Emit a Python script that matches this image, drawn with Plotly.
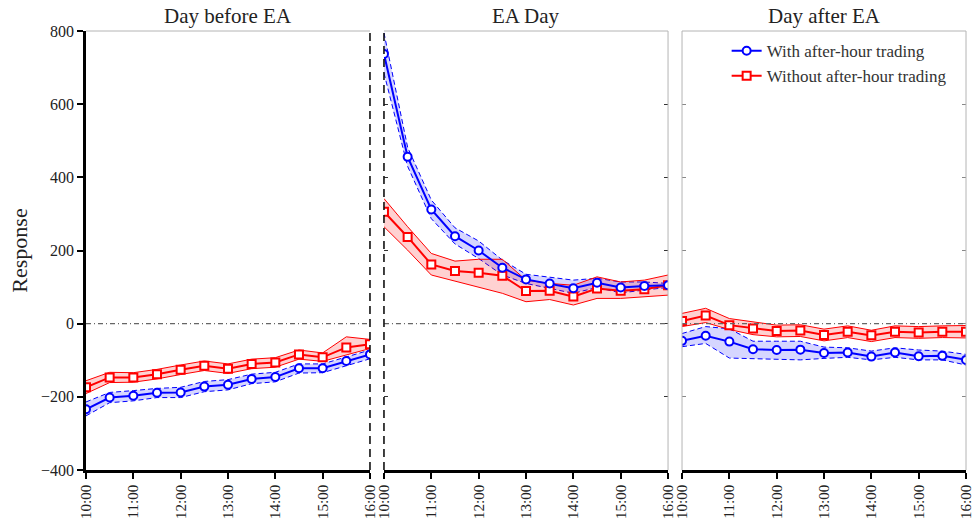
import plotly.graph_objects as go

# Half-hourly sampling times (hours) and the hourly tick labels
hours = [10, 10.5, 11, 11.5, 12, 12.5, 13, 13.5, 14, 14.5, 15, 15.5, 16]
tick_hours = [10, 11, 12, 13, 14, 15, 16]
tick_labels = ["10:00", "11:00", "12:00", "13:00", "14:00", "15:00", "16:00"]
y_ticks = [-400, -200, 0, 200, 400, 600, 800]

panel_titles = ["Day before EA", "EA Day", "Day after EA"]

# With after-hour trading: mean response and confidence band
with_before = [-234, -202, -197, -189, -188, -172, -167, -151, -146, -122, -122, -102, -84]
with_before_hi = [-214, -188, -183, -177, -174, -158, -153, -138, -133, -110, -110, -92, -72]
with_before_lo = [-252, -216, -211, -202, -202, -186, -181, -164, -159, -135, -134, -114, -96]

with_ea = [737, 456, 312, 239, 200, 153, 121, 110, 97, 112, 99, 103, 105]
with_ea_hi = [795, 482, 338, 262, 226, 174, 135, 128, 119, 124, 114, 114, 110]
with_ea_lo = [685, 430, 287, 218, 178, 133, 110, 96, 83, 99, 84, 92, 99]

with_after = [-47, -33, -49, -70, -72, -71, -80, -79, -90, -79, -89, -88, -99]
with_after_hi = [-27, -8, -14, -48, -48, -48, -64, -66, -75, -66, -72, -75, -84]
with_after_lo = [-63, -54, -94, -96, -99, -99, -95, -92, -99, -92, -99, -99, -113]

# Without after-hour trading: mean response and confidence band
without_before = [-174, -147, -147, -138, -126, -115, -123, -110, -106, -84, -92, -65, -56]
without_before_hi = [-156, -133, -134, -125, -113, -102, -110, -97, -93, -72, -80, -36, -43]
without_before_lo = [-191, -161, -160, -151, -139, -128, -136, -123, -119, -97, -103, -86, -68]

without_ea = [306, 237, 162, 144, 139, 131, 89, 90, 74, 96, 90, 94, 105]
without_ea_hi = [342, 265, 192, 171, 176, 176, 119, 110, 105, 128, 114, 119, 133]
without_ea_lo = [265, 201, 133, 116, 99, 83, 60, 66, 51, 69, 69, 74, 78]

without_after = [7, 22, -4, -13, -20, -19, -31, -22, -32, -22, -24, -22, -22]
without_after_hi = [28, 42, 14, 4, -4, -3, -15, -6, -18, -6, -8, -6, -5]
without_after_lo = [-8, 3, -16, -30, -36, -35, -47, -38, -49, -38, -40, -38, -39]

with_series = [(with_before, with_before_hi, with_before_lo),
               (with_ea, with_ea_hi, with_ea_lo),
               (with_after, with_after_hi, with_after_lo)]
without_series = [(without_before, without_before_hi, without_before_lo),
                  (without_ea, without_ea_hi, without_ea_lo),
                  (without_after, without_after_hi, without_after_lo)]

FONT = "Liberation Serif"
BLUE = "#0000ff"
RED = "#ff0000"
BLUE_FILL = "rgba(0,0,255,0.16)"
RED_FILL = "rgba(255,0,0,0.18)"
GRAY = "#b4b4b4"

domains = [[0.0, 0.3227], [0.3386, 0.6614], [0.6773, 1.0]]

fig = go.Figure()

for i in range(3):
    xa = "x" if i == 0 else f"x{i + 1}"
    ya = "y" if i == 0 else f"y{i + 1}"
    w_mean, w_hi, w_lo = with_series[i]
    o_mean, o_hi, o_lo = without_series[i]

    # confidence band, with after-hour trading (dashed edges)
    fig.add_trace(go.Scatter(x=hours, y=w_hi, mode="lines", xaxis=xa, yaxis=ya,
                             line=dict(color=BLUE, width=1, dash="5px,3px"),
                             showlegend=False, hoverinfo="skip"))
    fig.add_trace(go.Scatter(x=hours, y=w_lo, mode="lines", xaxis=xa, yaxis=ya,
                             line=dict(color=BLUE, width=1, dash="5px,3px"),
                             fill="tonexty", fillcolor=BLUE_FILL,
                             showlegend=False, hoverinfo="skip"))
    # confidence band, without after-hour trading (solid edges)
    fig.add_trace(go.Scatter(x=hours, y=o_hi, mode="lines", xaxis=xa, yaxis=ya,
                             line=dict(color=RED, width=1),
                             showlegend=False, hoverinfo="skip"))
    fig.add_trace(go.Scatter(x=hours, y=o_lo, mode="lines", xaxis=xa, yaxis=ya,
                             line=dict(color=RED, width=1),
                             fill="tonexty", fillcolor=RED_FILL,
                             showlegend=False, hoverinfo="skip"))

    fig.add_trace(go.Scatter(x=hours, y=o_mean, mode="lines+markers", xaxis=xa, yaxis=ya,
                             name="Without after-hour trading", legendrank=2,
                             line=dict(color=RED, width=2),
                             marker=dict(symbol="square", size=8, color="white",
                                         line=dict(color=RED, width=2)),
                             showlegend=(i == 0)))
    fig.add_trace(go.Scatter(x=hours, y=w_mean, mode="lines+markers", xaxis=xa, yaxis=ya,
                             name="With after-hour trading", legendrank=1,
                             line=dict(color=BLUE, width=2),
                             marker=dict(symbol="circle", size=8, color="white",
                                         line=dict(color=BLUE, width=2)),
                             showlegend=(i == 0)))

axis_font = dict(family=FONT, size=15, color="#222")
for i in range(3):
    sx = "" if i == 0 else str(i + 1)
    fig.update_layout(**{
        f"xaxis{sx}": dict(
            domain=domains[i], range=[10, 16], anchor=f"y{sx}", automargin=False,
            tickvals=tick_hours, ticktext=tick_labels, tickangle=-90,
            ticks="outside", ticklen=6, tickwidth=2, tickcolor="black",
            showline=True, linecolor="black", linewidth=2.5,
            showgrid=False, zeroline=False, tickfont=axis_font,
        ),
        f"yaxis{sx}": dict(
            domain=[0, 1], range=[-400, 800], anchor=f"x{sx}", automargin=False,
            tickvals=y_ticks, showgrid=False, zeroline=False,
            tickfont=dict(family=FONT, size=16, color="#222"),
        ),
    })

fig.update_layout(
    yaxis=dict(ticks="outside", ticklen=6, tickwidth=1.5, tickcolor="black",
               showline=True, linecolor="black", linewidth=2.5,
               title=dict(text="Response", standoff=8,
                          font=dict(family=FONT, size=22, color="#222"))),
    yaxis2=dict(ticks="inside", ticklen=4, tickwidth=1, tickcolor="#333",
                mirror="ticks", showline=False, showticklabels=False),
    yaxis3=dict(ticks="inside", ticklen=4, tickwidth=1, tickcolor="#888",
                mirror="ticks", showline=False, showticklabels=False),
)

shapes = []
dash_black = dict(color="#111", width=1.6, dash="8px,5px")
gray_line = dict(color=GRAY, width=1)
for i in range(3):
    sx = "" if i == 0 else str(i + 1)
    xd, yd = f"x{sx} domain", f"y{sx} domain"
    # top frame edge
    shapes.append(dict(type="line", xref=xd, yref=yd, x0=0, x1=1, y0=1, y1=1, line=gray_line))
    # zero reference line
    shapes.append(dict(type="line", xref=xd, yref=f"y{sx}", x0=0, x1=1, y0=0, y1=0,
                       line=dict(color="#666", width=1.2, dash="5px,3px,1px,3px")))
# side frame edges
shapes.append(dict(type="line", xref="x domain", yref="y domain", x0=1, x1=1, y0=0, y1=1, line=dash_black))
shapes.append(dict(type="line", xref="x2 domain", yref="y2 domain", x0=0, x1=0, y0=0, y1=1, line=dash_black))
shapes.append(dict(type="line", xref="x2 domain", yref="y2 domain", x0=1, x1=1, y0=0, y1=1, line=gray_line))
shapes.append(dict(type="line", xref="x3 domain", yref="y3 domain", x0=0, x1=0, y0=0, y1=1, line=gray_line))
shapes.append(dict(type="line", xref="x3 domain", yref="y3 domain", x0=1, x1=1, y0=0, y1=1, line=gray_line))

annotations = []
for i, title in enumerate(panel_titles):
    sx = "" if i == 0 else str(i + 1)
    annotations.append(dict(text=title, xref=f"x{sx} domain", yref=f"y{sx} domain",
                            x=0.5, y=1, xanchor="center", yanchor="bottom", yshift=1,
                            showarrow=False, font=dict(family=FONT, size=21, color="#222")))

fig.update_layout(
    width=974, height=523,
    margin=dict(l=86, r=8, t=31, b=53, autoexpand=False),
    paper_bgcolor="white", plot_bgcolor="white",
    shapes=shapes, annotations=annotations,
    legend=dict(x=0.728, y=0.995, xanchor="left", yanchor="top",
                traceorder="normal",
                bgcolor="rgba(255,255,255,0.9)", borderwidth=0,
                font=dict(family=FONT, size=17, color="#333"),
                itemwidth=30, tracegroupgap=0),
    font=dict(family=FONT),
)

fig.write_html("out.html")
